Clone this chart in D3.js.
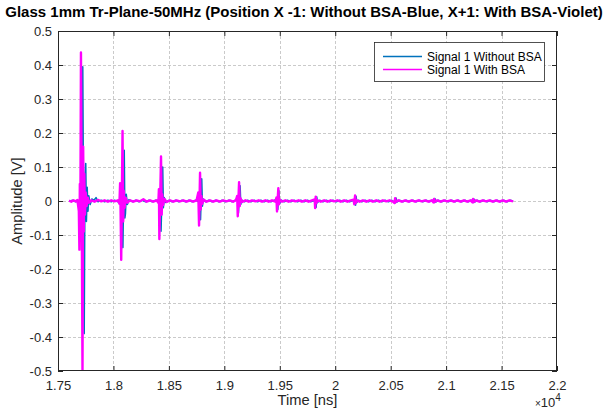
<!DOCTYPE html>
<html><head><meta charset="utf-8">
<script src="https://cdn.jsdelivr.net/npm/d3@7"></script>
<style>body{margin:0;background:#fff}svg{display:block;font-family:"Liberation Sans",Arial,sans-serif}</style>
</head><body><svg id="c" width="606" height="414"></svg>
<script>
// ---- data (time in ns, amplitude in V) ----
const titleText = "Glass 1mm Tr-Plane-50MHz (Position X -1: Without BSA-Blue, X+1: With BSA-Violet)";
const seriesNames = ["Signal 1 Without BSA", "Signal 1 With BSA"];
const xTicks = [17500,18000,18500,19000,19500,20000,20500,21000,21500,22000];
const xTickLabels = ["1.75","1.8","1.85","1.9","1.95","2","2.05","2.1","2.15","2.2"];
const yTicks = [-0.5,-0.4,-0.3,-0.2,-0.1,0,0.1,0.2,0.3,0.4,0.5];
const yTickLabels = ["-0.5","-0.4","-0.3","-0.2","-0.1","0","0.1","0.2","0.3","0.4","0.5"];

const timeWithout = [17600,17630,17660,17680,17695,17702,17710,17716,17723,17736,17743,17750,17756,17763,17770,17778,17790,17805,17825,17843,17860,17890,17920,17950,17980,18010,18040,18062,18068,18073,18085,18097,18103,18108,18115,18125,18140,18170,18200,18230,18260,18290,18320,18350,18380,18410,18420,18429,18444,18450,18458,18470,18500,18530,18560,18590,18620,18650,18680,18710,18740,18770,18778,18785,18796,18802,18810,18830,18860,18890,18920,18950,18980,19010,19040,19070,19100,19120,19127,19142,19148,19155,19180,19210,19240,19270,19300,19330,19360,19390,19420,19450,19475,19482,19492,19498,19510,19540,19570,19600,19630,19660,19690,19720,19750,19780,19810,19828,19833,19840,19860,19890,19920,19950,19980,20010,20040,20070,20100,20130,20160,20183,20188,20194,20210,20240,20270,20300,20330,20360,20390,20420,20450,20480,20510,20545,20548,20555,20580,20610,20640,20670,20700,20730,20760,20790,20820,20850,20880,20896,20899,20905,20930,20960,20990,21020,21050,21080,21110,21140,21170,21200,21230,21248,21251,21257,21280,21310,21340,21370,21400,21430,21460,21490,21520,21550,21580,21604];
const ampWithout = [-0.001,0.002,-0.002,0.001,-0.02,-0.09,0.05,-0.05,0.395,-0.39,0.06,0.11,-0.06,0.04,-0.03,0.015,-0.01,0.006,0.002,0.01,-0.002,0.002,-0.002,0.002,-0.002,0.002,-0.002,0.002,0.04,-0.03,-0.137,0.149,-0.05,-0.037,0.02,-0.01,0.004,-0.002,0.002,-0.002,0.002,-0.002,0.002,-0.002,0.002,-0.002,0.02,-0.089,0.1,-0.02,0.01,-0.004,0.002,-0.002,0.002,-0.002,0.002,-0.002,0.002,-0.002,0.002,-0.002,0.015,-0.055,0.065,-0.015,0.006,-0.002,0.002,-0.002,0.002,-0.002,0.002,-0.002,0.002,-0.002,0.002,0.01,-0.035,0.045,-0.01,0.003,-0.002,0.002,-0.002,0.002,-0.002,0.002,-0.002,0.002,-0.002,0.002,0.004,-0.025,0.03,-0.008,0.003,-0.002,0.002,-0.002,0.002,-0.002,0.002,-0.002,0.002,-0.002,0.002,-0.018,0.012,-0.004,0.002,-0.002,0.002,-0.002,0.002,-0.002,0.002,-0.002,0.002,-0.002,0.002,-0.012,0.014,-0.004,0.002,-0.002,0.002,-0.002,0.002,-0.002,0.002,-0.002,0.002,-0.002,0.002,-0.005,0.009,-0.003,0.002,-0.002,0.002,-0.002,0.002,-0.002,0.002,-0.002,0.002,-0.002,0.002,-0.004,0.007,-0.003,0.002,-0.002,0.002,-0.002,0.002,-0.002,0.002,-0.002,0.002,-0.002,0.002,-0.004,0.006,-0.003,0.002,-0.002,0.002,-0.002,0.002,-0.002,0.002,-0.002,0.002,-0.002,0.002,-0.001];

const timeWith = [17600,17620,17640,17660,17675,17688,17693,17697,17701,17707,17721,17727,17732,17737,17743,17750,17758,17768,17780,17800,17830,17860,17890,17920,17950,17980,18010,18040,18054,18060,18064,18070,18082,18088,18093,18100,18110,18125,18150,18180,18210,18240,18270,18300,18330,18360,18390,18405,18410,18414,18429,18435,18440,18448,18460,18480,18510,18540,18570,18600,18630,18660,18690,18720,18750,18765,18772,18781,18787,18793,18800,18815,18840,18870,18900,18930,18960,18990,19020,19050,19080,19105,19116,19121,19133,19139,19146,19160,19190,19220,19250,19280,19310,19340,19370,19400,19430,19460,19470,19475,19487,19493,19500,19520,19550,19580,19610,19640,19670,19700,19730,19760,19790,19815,19819,19824,19830,19840,19870,19900,19930,19960,19990,20020,20050,20080,20110,20140,20165,20172,20179,20185,20195,20220,20250,20280,20310,20340,20370,20400,20430,20460,20490,20520,20535,20540,20546,20570,20600,20630,20660,20690,20720,20750,20780,20810,20840,20870,20886,20891,20897,20920,20950,20980,21010,21040,21070,21100,21130,21160,21190,21220,21238,21243,21249,21270,21300,21330,21360,21390,21420,21450,21480,21510,21540,21570,21604];
const ampWith = [0.001,-0.002,0.002,-0.001,0.003,-0.03,-0.143,0.05,-0.11,0.437,-0.5,0.16,-0.09,0.08,-0.04,0.025,-0.015,0.01,-0.005,0.002,-0.002,0.003,-0.001,0.002,-0.002,0.002,-0.001,0.002,-0.008,0.052,-0.02,-0.173,0.206,-0.06,0.03,-0.02,0.01,-0.005,0.002,-0.002,0.002,-0.001,0.005,-0.002,0.002,-0.002,0.002,-0.005,0.035,-0.112,0.131,-0.04,0.02,-0.012,0.006,-0.003,0.002,-0.002,0.002,-0.001,0.002,-0.002,0.002,-0.002,0.002,0.025,-0.072,0.083,-0.025,0.015,-0.008,0.004,-0.002,0.002,-0.002,0.002,-0.002,0.002,-0.001,0.002,-0.002,0.003,0.015,-0.045,0.055,-0.015,0.008,-0.003,0.002,-0.002,0.002,-0.001,0.002,-0.002,0.002,-0.002,0.002,-0.002,0.01,-0.031,0.038,-0.01,0.004,-0.002,0.002,-0.002,0.002,-0.001,0.002,-0.002,0.002,-0.002,0.002,0.005,-0.021,0.013,-0.006,0.002,-0.002,0.002,-0.002,0.002,-0.001,0.002,-0.002,0.002,-0.002,0.002,0.004,-0.01,0.016,-0.006,0.002,-0.002,0.002,-0.002,0.002,-0.002,0.002,-0.002,0.002,-0.001,0.002,-0.002,-0.006,0.008,-0.003,0.002,-0.002,0.002,-0.002,0.002,-0.002,0.002,-0.001,0.002,-0.002,0.002,-0.004,0.006,-0.003,0.002,-0.002,0.002,-0.001,0.002,-0.002,0.002,-0.002,0.002,-0.002,0.002,-0.004,0.006,-0.003,0.002,-0.002,0.002,-0.001,0.002,-0.002,0.002,-0.002,0.002,-0.002,0.002,-0.001];

const colors = ["#0072BD", "#FF00FF"];

// ---- layout ----
const L = 58, R = 557, T = 31, B = 371;
const svg = d3.select("#c");
svg.append("rect").attr("width",606).attr("height",414).attr("fill","#fff");

const x = d3.scaleLinear().domain([17500,22000]).range([L,R]);
const y = d3.scaleLinear().domain([-0.5,0.5]).range([B,T]);

// grid
const grid = svg.append("g").attr("stroke","#bdbdbd").attr("stroke-width",0.8).attr("stroke-dasharray","3,2");
grid.selectAll("line.v").data(xTicks.slice(1,-1)).join("line").attr("class","v")
  .attr("x1",d=>Math.round(x(d))+0.5).attr("x2",d=>Math.round(x(d))+0.5).attr("y1",T).attr("y2",B);
grid.selectAll("line.h").data(yTicks.slice(1,-1)).join("line").attr("class","h")
  .attr("y1",d=>Math.round(y(d))+0.5).attr("y2",d=>Math.round(y(d))+0.5).attr("x1",L).attr("x2",R);

// data lines
svg.append("clipPath").attr("id","clip").append("rect").attr("x",L).attr("y",T).attr("width",R-L).attr("height",B-T);
const line = d3.line().x(d=>x(d[0])).y(d=>y(d[1]));
const dWithout = timeWithout.map((t,i)=>[t, ampWithout[i]]);
const dWith = timeWith.map((t,i)=>[t, ampWith[i]]);
const plot = svg.append("g").attr("clip-path","url(#clip)");
plot.append("path").datum(dWithout).attr("d",line).attr("fill","none").attr("stroke",colors[0]).attr("stroke-width",1.6).attr("stroke-linejoin","round");
plot.append("path").datum(dWith).attr("d",line).attr("fill","none").attr("stroke",colors[1]).attr("stroke-width",2.4).attr("stroke-linejoin","round");

// axes
const axColor = "#262626";
function styleAxis(g, showText){
  g.select(".domain").remove();
  g.selectAll(".tick line").attr("stroke",axColor);
  g.selectAll(".tick text").attr("fill",axColor).style("font-size","13px").style("font-family",'"Liberation Sans",Arial,sans-serif');
  if(!showText) g.selectAll(".tick text").remove();
}
svg.append("g").attr("transform",`translate(0,${B})`)
  .call(d3.axisBottom(x).tickValues(xTicks).tickFormat((d,i)=>xTickLabels[i]).tickSizeInner(-5).tickSizeOuter(0).tickPadding(10))
  .call(g=>styleAxis(g,true));
svg.append("g").attr("transform",`translate(0,${T})`)
  .call(d3.axisTop(x).tickValues(xTicks).tickSizeInner(-5).tickSizeOuter(0))
  .call(g=>styleAxis(g,false));
svg.append("g").attr("transform",`translate(${L},0)`)
  .call(d3.axisLeft(y).tickValues(yTicks).tickFormat((d,i)=>yTickLabels[i]).tickSizeInner(-5).tickSizeOuter(0).tickPadding(6))
  .call(g=>styleAxis(g,true));
svg.append("g").attr("transform",`translate(${R},0)`)
  .call(d3.axisRight(y).tickValues(yTicks).tickSizeInner(-5).tickSizeOuter(0))
  .call(g=>styleAxis(g,false));
svg.append("rect").attr("x",L+0.5).attr("y",T+0.5).attr("width",R-L-1).attr("height",B-T-1)
  .attr("fill","none").attr("stroke",axColor).attr("stroke-width",1);

// labels
svg.append("text").attr("x",(L+R)/2).attr("y",405).attr("text-anchor","middle")
  .attr("fill",axColor).style("font-size","14.7px").text("Time [ns]");
svg.append("text").attr("transform",`translate(22,${(T+B)/2}) rotate(-90)`).attr("text-anchor","middle")
  .attr("fill",axColor).style("font-size","14.7px").text("Amplitude [V]");
const ex = svg.append("text").attr("x",535).attr("y",407).attr("fill",axColor).style("font-size","13px");
ex.append("tspan").style("font-size","10px").text("×");
ex.append("tspan").text("10");
ex.append("tspan").attr("dy",-6).style("font-size","10px").text("4");

svg.append("text").attr("x",304).attr("y",17).attr("text-anchor","middle")
  .attr("fill","#000").style("font-size","15px").style("font-weight","bold").text(titleText);

// legend
const lg = svg.append("g");
lg.append("rect").attr("x",374.5).attr("y",42.5).attr("width",170).attr("height",39)
  .attr("fill","#fff").attr("stroke",axColor).attr("stroke-width",0.8);
seriesNames.forEach((name,i)=>{
  const yy = 56.5 + i*13;
  lg.append("line").attr("x1",383).attr("x2",422).attr("y1",yy).attr("y2",yy)
    .attr("stroke",colors[i]).attr("stroke-width",1.5);
  lg.append("text").attr("x",427).attr("y",yy).attr("dy","0.35em").attr("fill","#000")
    .style("font-size","12px").text(name);
});
</script></body></html>
